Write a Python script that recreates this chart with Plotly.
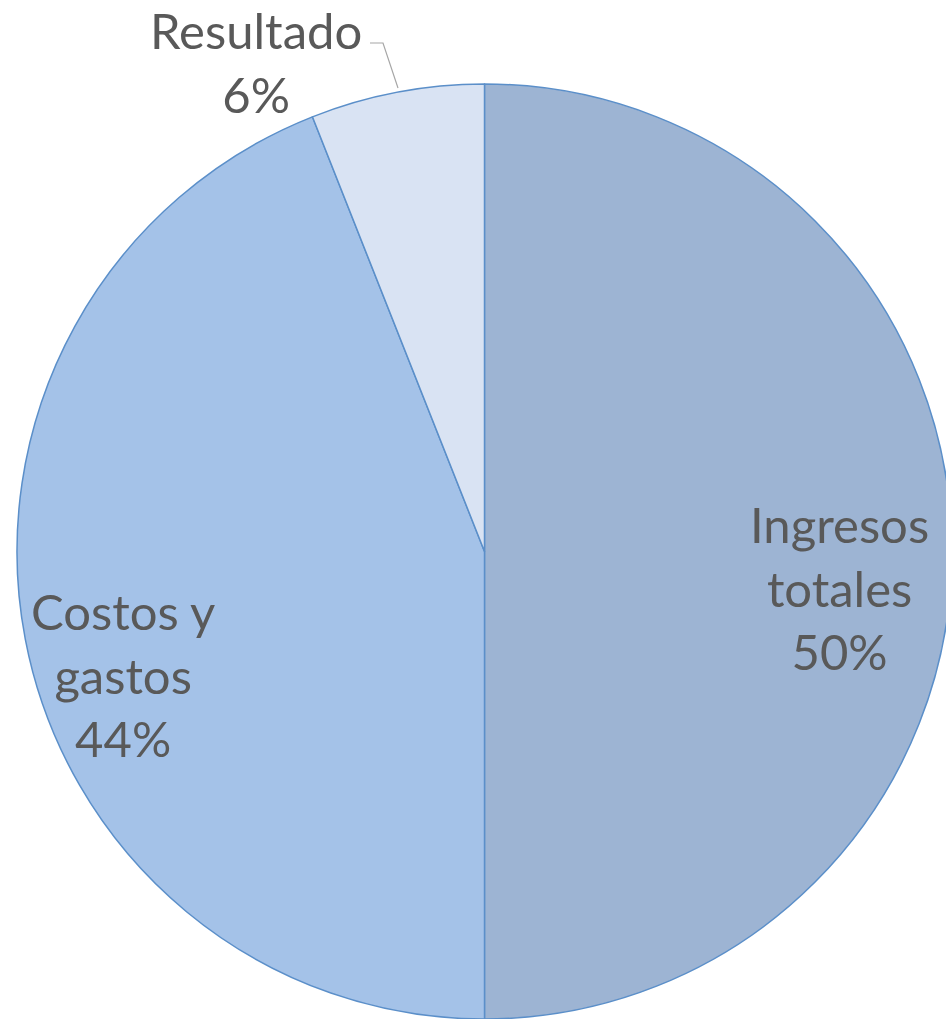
import plotly.graph_objects as go

categories = ["Ingresos totales", "Costos y gastos", "Resultado"]
values = [50, 44, 6]
label_lines = ["Ingresos<br>totales<br>50%", "Costos y<br>gastos<br>44%", "Resultado<br>6%"]
colors = ["#9DB4D3", "#A4C2E8", "#D9E3F3"]

W, H = 952, 1019

fig = go.Figure(go.Pie(
    labels=categories,
    values=values,
    sort=False,
    direction="clockwise",
    rotation=0,
    textinfo="none",
    hoverinfo="label+percent",
    marker=dict(colors=colors, line=dict(color="#5B8FC9", width=1.5)),
    domain=dict(x=[17 / W, 1], y=[0, 1 - 84 / H]),
    showlegend=False,
))

font = dict(family="Lato, 'Open Sans', sans-serif", size=49, color="#595959")
label_pos = [(839, 587), (123, 674), (256, 62)]
for txt, (px, py) in zip(label_lines, label_pos):
    fig.add_annotation(x=px / W, y=1 - py / H, xref="paper", yref="paper",
                       text=txt, showarrow=False, font=font, align="center",
                       xanchor="center", yanchor="middle")

fig.add_shape(type="path", xref="paper", yref="paper",
              path=f"M {370/W} {1-43/H} L {383/W} {1-43/H} L {398/W} {1-88/H}",
              line=dict(color="#A6A6A6", width=1.2))

fig.update_layout(width=W, height=H, margin=dict(l=0, r=0, t=0, b=0),
                  paper_bgcolor="white", plot_bgcolor="white")
fig.write_html("out.html", config={"displayModeBar": False},
               post_script="document.body.style.margin='0';document.body.style.padding='0';"
                           "document.body.style.overflow='hidden';"
                           "document.documentElement.style.overflow='hidden';")
